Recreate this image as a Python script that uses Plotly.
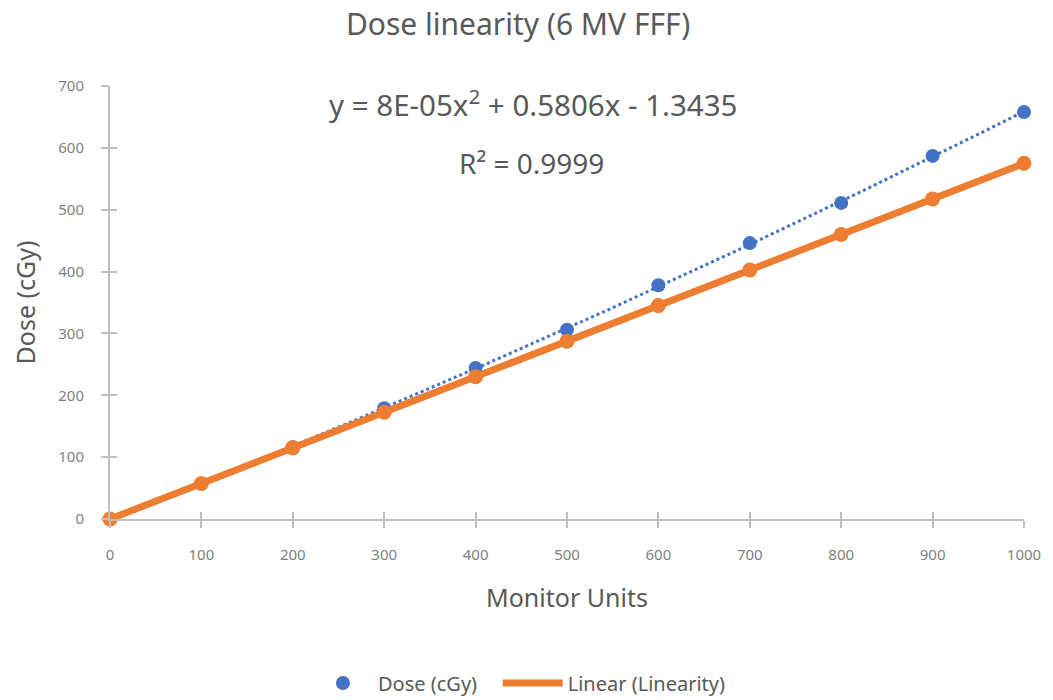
import numpy as np
import plotly.graph_objects as go

monitor_units = [0, 100, 200, 300, 400, 500, 600, 700, 800, 900, 1000]
dose_cgy = [0, 57, 116, 179, 244, 306, 378, 446, 511, 587, 658]
linearity = [0, 57.5, 115, 172.5, 230, 287.5, 345, 402.5, 460, 517.5, 575]
x_ticks = [0, 100, 200, 300, 400, 500, 600, 700, 800, 900, 1000]
y_ticks = [0, 100, 200, 300, 400, 500, 600, 700]

BLUE = "#4472C4"
ORANGE = "#ED7D31"
TXT = "#595959"
AX = "#BFBFBF"
FONT = "Noto Sans"

W, H = 1053, 700
L, R, T, B = 110, 29, 86, 181
PW, PH = W - L - R, H - T - B


def px(xp):
    return (xp - L) / PW


def py(yp):
    return (H - B - yp) / PH


# polynomial (order 2) trendline fitted to the dose data
coef = np.polyfit(monitor_units, dose_cgy, 2)
xf = np.linspace(min(monitor_units), max(monitor_units), 200)
yf = np.polyval(coef, xf)

fig = go.Figure()
fig.add_trace(go.Scatter(x=xf, y=yf, mode="lines", showlegend=False,
                         line=dict(color=BLUE, width=3, dash="dot"), hoverinfo="skip"))
fig.add_trace(go.Scatter(x=monitor_units, y=dose_cgy, mode="markers", name="Dose (cGy)   ",
                         marker=dict(color=BLUE, size=14), cliponaxis=False))
fig.add_trace(go.Scatter(x=monitor_units, y=linearity, mode="lines+markers", showlegend=False,
                         line=dict(color=ORANGE, width=7), marker=dict(color=ORANGE, size=15),
                         cliponaxis=False))
fig.add_trace(go.Scatter(x=[None], y=[None], mode="lines", name="Linear (Linearity)",
                         line=dict(color=ORANGE, width=7)))
fig.add_trace(go.Scatter(x=[None], y=[None], xaxis="x2", yaxis="y2", showlegend=False))

line_common = dict(showgrid=False, zeroline=False, showline=True, linecolor=AX, linewidth=2,
                   tickcolor=AX, tickwidth=2, ticklen=7)
tickfont = dict(family=FONT, size=15, color="#7F7F7F")

fig.update_layout(
    width=W, height=H,
    paper_bgcolor="white", plot_bgcolor="white",
    margin=dict(l=L, r=R, t=T, b=B, autoexpand=False),
    title=dict(text="Dose linearity (6 MV FFF)", x=0.492, xanchor="center", y=0.965, yanchor="middle",
               font=dict(family=FONT, size=30, color=TXT)),
    xaxis=dict(range=[0, 1000], tickvals=x_ticks, ticks="outside", ticklabelstandoff=14, tickfont=tickfont,
               title=dict(text="Monitor Units", font=dict(family=FONT, size=25, color=TXT), standoff=26),
               **line_common),
    yaxis=dict(range=[0, 700], tickvals=y_ticks, ticks="outside", ticklabelstandoff=14, tickfont=tickfont,
               title=dict(text="Dose (cGy)", font=dict(family=FONT, size=25, color=TXT), standoff=16),
               **line_common),
    xaxis2=dict(range=[0, 1000], tickvals=x_ticks, ticks="inside", showticklabels=False,
                overlaying="x", anchor="y", side="bottom", **line_common),
    yaxis2=dict(range=[0, 700], tickvals=y_ticks, ticks="inside", showticklabels=False,
                overlaying="y", anchor="x", side="left", **line_common),
    legend=dict(orientation="h", x=0.448, xanchor="center", y=py(683), yanchor="middle",
                font=dict(family=FONT, size=20, color=TXT), itemwidth=60),
    annotations=[
        dict(text="y = 8E-05x<sup>2</sup> + 0.5806x - 1.3435", x=px(533), y=py(104), xref="paper", yref="paper",
             xanchor="center", yanchor="middle", showarrow=False, font=dict(family=FONT, size=29.5, color=TXT)),
        dict(text="R² = 0.9999", x=px(531), y=py(163), xref="paper", yref="paper",
             xanchor="center", yanchor="middle", showarrow=False, font=dict(family=FONT, size=28, color=TXT)),
    ],
)

fig.write_html("out.html")
